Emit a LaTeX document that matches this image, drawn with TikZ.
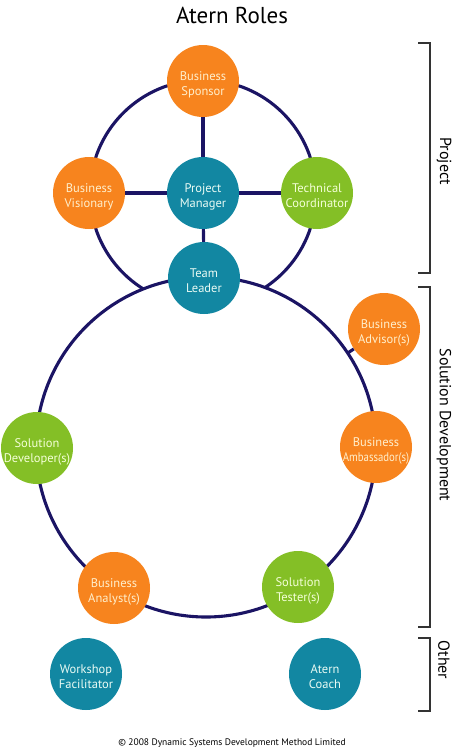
\documentclass[tikz,border=0pt]{standalone}
\usepackage{fontspec}
\usepackage{graphicx}
\setmainfont{PT Sans}
\definecolor{orng}{HTML}{F7841E}
\definecolor{grn}{HTML}{84BF26}
\definecolor{teal2}{HTML}{1287A2}
\definecolor{navy}{HTML}{1B1464}
\definecolor{creamo}{HTML}{FFEFCC}
\definecolor{creamt}{HTML}{EAFBF4}
\definecolor{creamg}{HTML}{F4FFD8}
\definecolor{brk}{HTML}{333333}
\newcommand\rtext[1]{\raisebox{-7pt}[0pt][0pt]{\makebox[0pt]{\begin{tabular}[c]{@{}c@{}}#1\end{tabular}}}}
\tikzset{
  role/.style={circle, minimum size=72pt, inner sep=0pt,
    font=\fontsize{12.5}{15}\selectfont},
  orole/.style={role, fill=orng, text=creamo},
  grole/.style={role, fill=grn, text=creamg},
  trole/.style={role, fill=teal2, text=creamt},
  ring/.style={draw=navy, line width=3.1pt},
  link/.style={draw=navy, line width=3.1pt},
  bracket/.style={draw=brk, line width=1.1pt},
  side/.style={rotate=-90, font=\fontsize{16}{18}\selectfont, text=black}
}
\begin{document}
\begin{tikzpicture}[x=1pt,y=1pt]
\useasboundingbox (0,0) rectangle (456,-748);
\node[font=\fontsize{23}{25}\selectfont] (title) at (232,-15) {Atern Roles};
% circles
\coordinate (uc) at (203,-193);
\coordinate (lc) at (206,-447);
\draw[ring] (uc) circle[radius=113];
\draw[ring, fill=white] (lc) circle[radius=170];
\coordinate (advc) at (347.7,-353);
% nodes
\node[orole] (sponsor) at (203,-81) {\rtext{Business\\Sponsor}};
\node[orole] (visionary) at (89,-193) {\rtext{Business\\Visionary}};
\node[trole] (pm) at (203,-193) {\rtext{Project\\Manager}};
\node[grole] (coord) at (317,-193) {\rtext{Technical\\Coordinator}};
\node[trole] (leader) at (204,-278) {\rtext{Team\\Leader}};
\node[orole] (advisor) at (384,-329) {\rtext{Business\\Advisor(s)}};
\node[grole] (developer) at (37,-448) {\rtext{Solution\\Developer(s)}};
\node[orole] (ambassador) at (376,-447) {\rtext{Business\\\scalebox{0.86}[1]{Ambassador(s)}}};
\node[orole] (analyst) at (114,-588) {\rtext{Business\\Analyst(s)}};
\node[grole] (tester) at (298,-587) {\rtext{Solution\\Tester(s)}};
\node[trole] (facilitator) at (86,-674) {\rtext{Workshop\\Facilitator}};
\node[trole] (coach) at (325,-674) {\rtext{Atern\\Coach}};
% links
\draw[link] (sponsor) -- (pm);
\draw[link] (visionary) -- (pm);
\draw[link] (pm) -- (coord);
\draw[link] (pm) -- (leader);
\draw[link] (advisor) -- (advc);
% brackets
\draw[bracket] (418,-43) -- (430,-43) -- (430,-273) -- (418,-273);
\draw[bracket] (418,-287) -- (430,-287) -- (430,-627) -- (418,-627);
\draw[bracket] (418,-638) -- (430,-638) -- (430,-711) -- (418,-711);
\node[side] (lproj) at (444,-161) {Project};
\node[side] (lsol) at (444,-425) {Solution Development};
\node[side] (loth) at (444,-660) {Other};
\node[font=\fontsize{9.5}{11}\selectfont] (copy) at (232,-743) {© 2008 Dynamic Systems Development Method Limited};
\end{tikzpicture}
\end{document}
